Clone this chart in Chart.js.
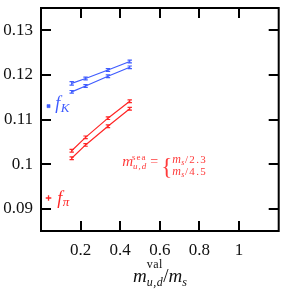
<!DOCTYPE html>
<html><head><meta charset="utf-8">
<script src="https://cdn.jsdelivr.net/npm/chart.js@4/dist/chart.umd.min.js"></script>
<style>html,body{margin:0;padding:0;background:#fff}#wrap{width:284px;height:291px}</style>
</head><body><div id="wrap"><canvas id="c" width="284" height="291"></canvas></div>
<script>
// ---- data ----
const mVal = [0.155, 0.225, 0.338, 0.448];
const fK_a = [0.1181, 0.1192, 0.1211, 0.1230];
const fK_b = [0.1162, 0.1175, 0.1197, 0.1217];
const fPi_a = [0.1030, 0.1060, 0.1103, 0.1141];
const fPi_b = [0.1013, 0.1043, 0.1085, 0.1124];
const errK_a = [0.0004, 0.0003, 0.0003, 0.0003];
const errK_b = [0.0003, 0.0003, 0.0003, 0.0003];
const errPi_a = [0.0003, 0.0003, 0.0003, 0.0003];
const errPi_b = [0.0003, 0.0003, 0.0003, 0.0003];
const physX = [0.038];
const physK = [0.1130];
const physPi = [0.0924];
const xTicks = [0.2, 0.4, 0.6, 0.8, 1.0];
const yTicks = [0.09, 0.10, 0.11, 0.12, 0.13];
const xLabels = ['0.2', '0.4', '0.6', '0.8', '1'];
const yLabels = ['0.09', '0.1', '0.11', '0.12', '0.13'];

const BLUE = '#3f5cff';
const RED = '#ff2626';
const SERIF = '"Liberation Serif", "DejaVu Serif", serif';

function pts(xs, ys){ return xs.map((x,i)=>({x:x, y:ys[i]})); }

const errPlugin = {
  id:'errbars',
  afterDatasetsDraw(chart){
    const ctx = chart.ctx, ys = chart.scales.y;
    chart.data.datasets.forEach((ds,di)=>{
      if(!ds.err) return;
      const meta = chart.getDatasetMeta(di);
      ctx.save();
      ctx.strokeStyle = ds.borderColor; ctx.lineWidth = 1.2;
      meta.data.forEach((el,i)=>{
        const v = ds.data[i].y, e = ds.err[i];
        const y1 = ys.getPixelForValue(v+e), y2 = ys.getPixelForValue(v-e), x = el.x;
        ctx.beginPath();
        ctx.moveTo(x,y1); ctx.lineTo(x,y2);
        ctx.moveTo(x-2.2,y1); ctx.lineTo(x+2.2,y1);
        ctx.moveTo(x-2.2,y2); ctx.lineTo(x+2.2,y2);
        ctx.stroke();
      });
      ctx.restore();
    });
  }
};

function txt(ctx, s, x, y, size, italic, color, sp){
  ctx.font = (italic?'italic ':'') + size + 'px ' + SERIF;
  ctx.fillStyle = color;
  ctx.letterSpacing = (sp||0) + 'px';
  ctx.fillText(s, x, y);
  const w = ctx.measureText(s).width;
  ctx.letterSpacing = '0px';
  return x + w;
}

const framePlugin = {
  id:'frame',
  afterDraw(chart){
    const ctx = chart.ctx, a = chart.chartArea, xs = chart.scales.x, ys = chart.scales.y;
    ctx.save();
    ctx.textBaseline = 'alphabetic'; ctx.textAlign = 'left';
    // f_K label
    let px = xs.getPixelForValue(0.072), py = ys.getPixelForValue(0.1130);
    let nx = txt(ctx, 'f', px, py+3, 18, true, BLUE);
    txt(ctx, 'K', nx+0.5, py+6, 13, true, BLUE);
    // f_pi label
    px = xs.getPixelForValue(0.082); py = ys.getPixelForValue(0.0918);
    nx = txt(ctx, 'f', px, py+3, 18, true, RED);
    txt(ctx, 'π', nx+0.5, py+5, 13, true, RED);

    // sea-mass annotation
    const C = '#ff3a3a';
    px = xs.getPixelForValue(0.41); py = ys.getPixelForValue(0.0995);
    nx = txt(ctx, 'm', px, py, 15, true, C);
    txt(ctx, 'sea', nx-1, py-6, 9, false, C, 1);
    const n2 = txt(ctx, 'u,d', nx, py+3, 9, true, C, 1);
    nx = txt(ctx, '=', n2+3, py, 14, false, C);
    txt(ctx, '{', nx+3, py+8, 23, false, C);
    let mx = nx + 14;
    let q = txt(ctx, 'm', mx, py-3, 12, true, C, 0.5);
    q = txt(ctx, 's', q, py-1, 8, true, C);
    txt(ctx, '/2.3', q+0.5, py-3, 11, false, C, 1.3);
    q = txt(ctx, 'm', mx, py+9, 12, true, C, 0.5);
    q = txt(ctx, 's', q, py+11, 8, true, C);
    txt(ctx, '/4.5', q+0.5, py+9, 11, false, C, 1.3);

    // x-axis title
    const K = '#111';
    px = 133; py = 282;
    nx = txt(ctx, 'm', px, py, 19, true, K);
    txt(ctx, 'val', nx, py-14, 12, false, K, 0.5);
    nx = txt(ctx, 'u,d', nx, py+4, 12, true, K, 0.5);
    nx = txt(ctx, '/', nx, py, 19, false, K);
    nx = txt(ctx, 'm', nx, py, 19, true, K);
    txt(ctx, 's', nx, py+4, 12, true, K);
    ctx.restore();

    // frame and inward ticks, drawn last
    ctx.save();
    ctx.letterSpacing = '0px';
    ctx.globalAlpha = 1;
    ctx.globalCompositeOperation = 'source-over';
    ctx.strokeStyle = '#000'; ctx.lineWidth = 2;
    ctx.strokeRect(a.left, a.top, a.right-a.left, a.bottom-a.top);
    const L = 10;
    ctx.fillStyle = '#000';
    for (const v of xTicks){
      const p = Math.round(xs.getPixelForValue(v));
      ctx.fillRect(p-1, a.bottom-L, 2, L);
      ctx.fillRect(p-1, a.top, 2, L);
    }
    for (const v of yTicks){
      const p = Math.round(ys.getPixelForValue(v));
      ctx.fillRect(a.left, p-1, L, 2);
      ctx.fillRect(a.right-L, p-1, L, 2);
    }
    ctx.restore();
  }
};

new Chart(document.getElementById('c'), {
  type:'scatter',
  data:{ datasets:[
    {data:pts(mVal,fK_a), err:errK_a, showLine:true, borderColor:BLUE, borderWidth:1.2, pointRadius:0},
    {data:pts(mVal,fK_b), err:errK_b, showLine:true, borderColor:BLUE, borderWidth:1.2, pointRadius:0},
    {data:pts(mVal,fPi_a), err:errPi_a, showLine:true, borderColor:RED, borderWidth:1.2, pointRadius:0},
    {data:pts(mVal,fPi_b), err:errPi_b, showLine:true, borderColor:RED, borderWidth:1.2, pointRadius:0},
    {data:pts(physX,physK), pointStyle:'rect', pointRadius:2.2, backgroundColor:BLUE, borderColor:BLUE, borderWidth:0.5},
    {data:pts(physX,physPi), pointStyle:'cross', pointRadius:2.8, borderColor:RED, borderWidth:1.3}
  ]},
  options:{
    responsive:false, animation:false, devicePixelRatio:1,
    layout:{padding:{top:8, right:4, left:0, bottom:0}},
    plugins:{legend:{display:false}, tooltip:{enabled:false}},
    scales:{
      x:{type:'linear', min:0, max:1.2,
         afterBuildTicks:s=>{s.ticks = xTicks.map(v=>({value:v}));},
         afterFit:s=>{s.height = 60; s.paddingLeft = 0; s.paddingRight = 0;},
         grid:{display:false, drawTicks:false}, border:{display:false},
         ticks:{padding:9, color:'#111', font:{family:SERIF, size:17},
                callback:(v)=>{const i = xTicks.findIndex(t=>Math.abs(t-v)<1e-9); return i>=0?xLabels[i]:'';}}},
      y:{type:'linear', min:0.085, max:0.135,
         afterBuildTicks:s=>{s.ticks = yTicks.map(v=>({value:v}));},
         afterFit:s=>{s.width = 41; s.paddingTop = 0; s.paddingBottom = 0;},
         grid:{display:false, drawTicks:false}, border:{display:false},
         ticks:{padding:8, color:'#111', font:{family:SERIF, size:17},
                callback:(v)=>{const i = yTicks.findIndex(t=>Math.abs(t-v)<1e-9); return i>=0?yLabels[i]:'';}}}
    }
  },
  plugins:[errPlugin, framePlugin]
});
</script></body></html>
